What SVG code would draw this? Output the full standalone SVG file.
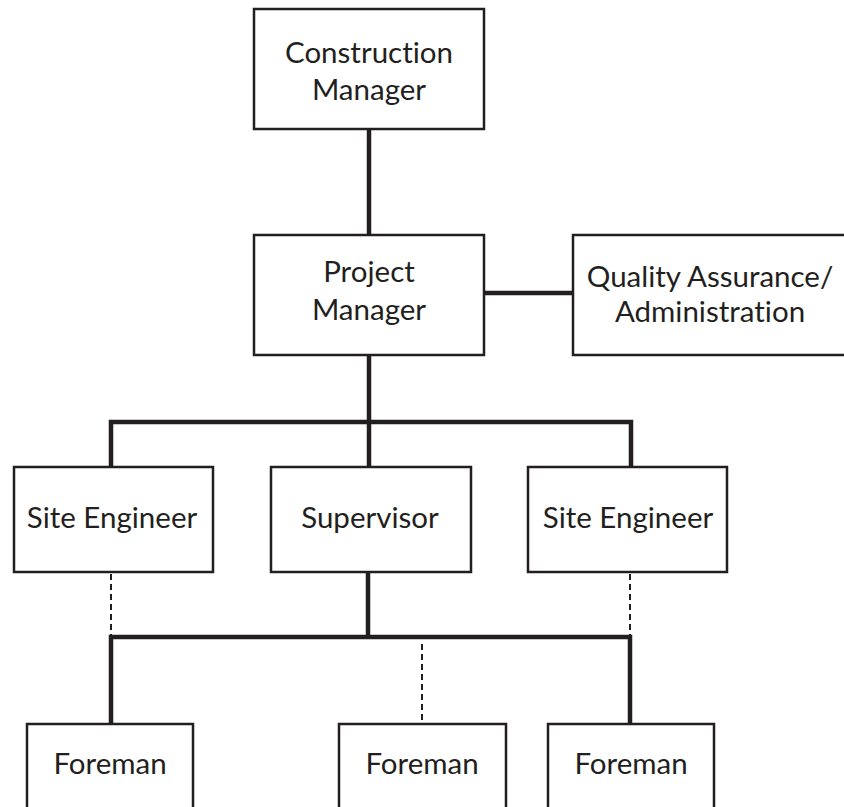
<svg xmlns="http://www.w3.org/2000/svg" width="844" height="807" viewBox="0 0 844 807">
<style>
.box{fill:#fff;stroke:#231f20;stroke-width:2.5}
.lbl{font-family:Lato,"Open Sans","Liberation Sans",sans-serif;font-size:29.5px;fill:#231f20;text-anchor:middle;font-variant-ligatures:none;font-feature-settings:"liga" 0,"dlig" 0}
.conn{stroke:#231f20;stroke-width:4.5;fill:none}
.dash{stroke:#231f20;stroke-width:2;fill:none;stroke-dasharray:6 4}
</style>
<rect width="844" height="807" fill="#fff"/>
<g id="connectors">
<line class="conn" x1="369" y1="129" x2="369" y2="235"/>
<line class="conn" x1="484" y1="293" x2="573" y2="293"/>
<polyline class="conn" points="369,355 369,467"/>
<polyline class="conn" points="111,467 111,422 631,422 631,467"/>
<polyline class="conn" points="368,572 368,637"/>
<polyline class="conn" points="111,724 111,637 630,637 630,724"/>
<line class="dash" x1="111" y1="574" x2="111" y2="635"/>
<line class="dash" x1="630" y1="574" x2="630" y2="635"/>
<line class="dash" x1="422" y1="644" x2="422" y2="724"/>
</g>
<g id="construction-manager">
<rect class="box" x="254" y="9" width="230" height="120"/>
<text class="lbl" x="369" y="63">Construction</text>
<text class="lbl" x="369" y="100">Manager</text>
</g>
<g id="project-manager">
<rect class="box" x="254" y="235" width="230" height="120"/>
<text class="lbl" x="369" y="282">Project</text>
<text class="lbl" x="369" y="320">Manager</text>
</g>
<g id="quality-assurance">
<rect class="box" x="573" y="235" width="280" height="120"/>
<text class="lbl" x="710" y="287">Quality Assurance/</text>
<text class="lbl" x="710" y="322">Administration</text>
</g>
<g id="site-engineer-left">
<rect class="box" x="14" y="467" width="199" height="105"/>
<text class="lbl" x="112" y="528">Site Engineer</text>
</g>
<g id="supervisor">
<rect class="box" x="271" y="467" width="200" height="105"/>
<text class="lbl" x="370" y="528">Supervisor</text>
</g>
<g id="site-engineer-right">
<rect class="box" x="528" y="467" width="199" height="105"/>
<text class="lbl" x="628" y="528">Site Engineer</text>
</g>
<g id="foreman-left">
<rect class="box" x="27" y="724" width="166" height="90"/>
<text class="lbl" x="110" y="774">Foreman</text>
</g>
<g id="foreman-middle">
<rect class="box" x="339" y="724" width="167" height="90"/>
<text class="lbl" x="422" y="774">Foreman</text>
</g>
<g id="foreman-right">
<rect class="box" x="548" y="724" width="166" height="90"/>
<text class="lbl" x="631" y="774">Foreman</text>
</g>
</svg>
